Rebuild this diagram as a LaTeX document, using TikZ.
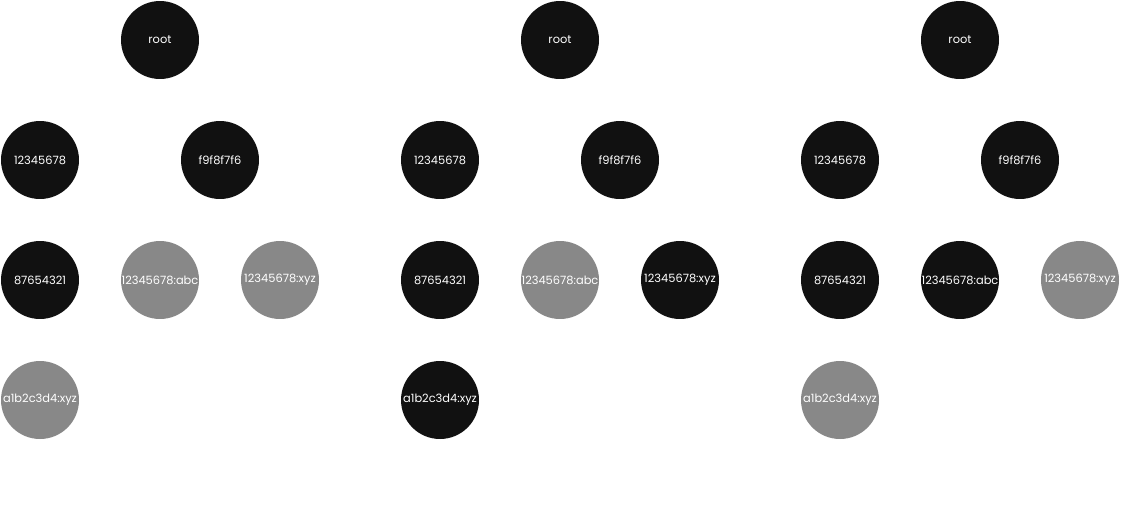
\documentclass[tikz,border=0pt]{standalone}
\usepackage{fontspec}
\setmainfont{Poppins}
\usetikzlibrary{positioning}
\definecolor{nodeblack}{HTML}{111111}
\definecolor{nodegray}{HTML}{888888}
\tikzset{
  keynode/.style={circle, minimum size=1.56cm, inner sep=0pt, text=white,
    font=\fontsize{6.5}{8}\selectfont},
  on/.style={keynode, fill=nodeblack},
  off/.style={keynode, fill=nodegray}
}
\begin{document}
\begin{tikzpicture}[x=0.02cm,y=-0.02cm]
  \useasboundingbox (0,0) rectangle (1122,521);
  \foreach \t/\ox/\sa/\sb/\sc/\sd in {a/0/on/off/off/off, b/400/on/off/on/on, c/800/on/on/off/off}{
    \node[on] (root\t) at (\ox+160,40) {root};
    \node[on] (one\t) at (\ox+40,160) {12345678};
    \node[on] (ff\t) at (\ox+220,160) {f9f8f7f6};
    \node[\sa] (eight\t) at (\ox+40,280) {87654321};
    \node[\sb] (abc\t) at (\ox+160,280) {12345678:abc};
    \node[\sc] (xyz\t) at (\ox+280,280) {12345678:xyz};
    \node[\sd] (aone\t) at (\ox+40,400) {a1b2c3d4:xyz};
  }
\end{tikzpicture}
\end{document}
